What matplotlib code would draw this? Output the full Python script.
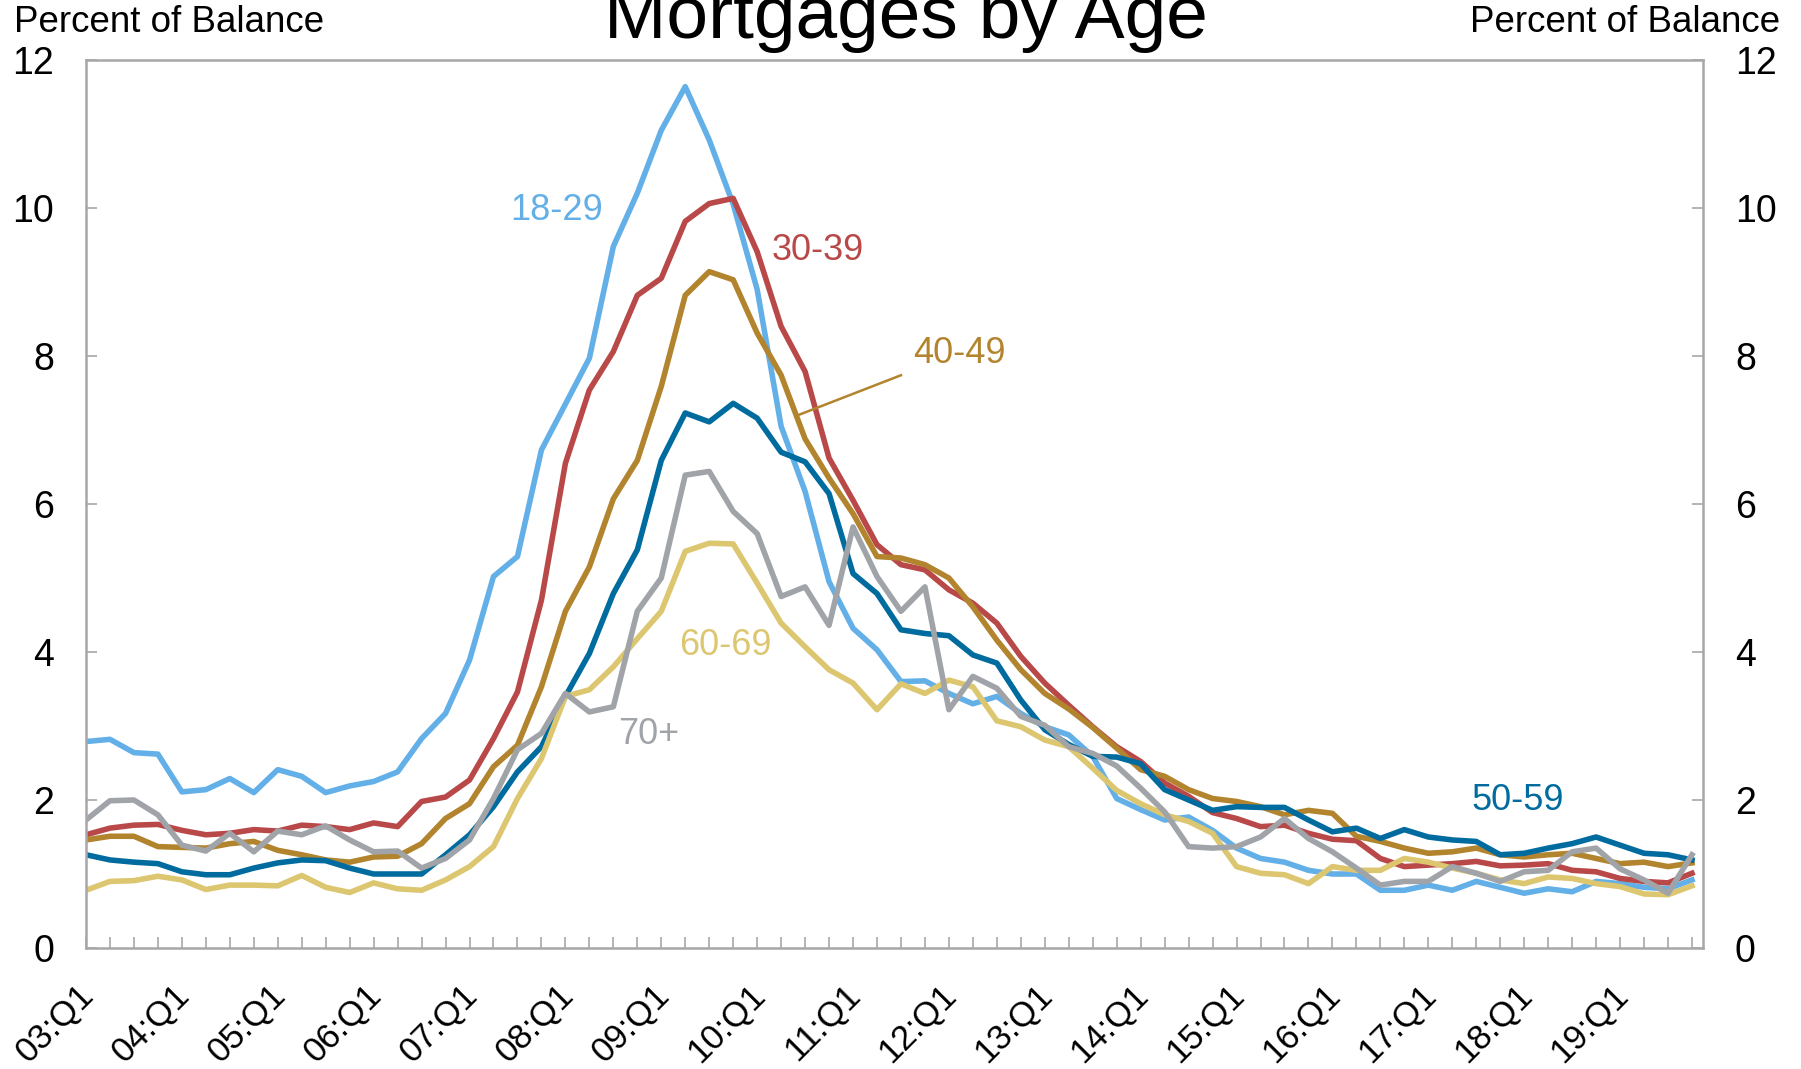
import matplotlib.pyplot as plt
from matplotlib.transforms import ScaledTranslation

plt.rcParams['font.family'] = ['Liberation Sans', 'DejaVu Sans']

# quarters 03:Q1 .. 19:Q4
quarters = ['%02d:Q%d' % (y, q) for y in range(3, 20) for q in range(1, 5)]

age_18_29 = [2.79, 2.82, 2.64, 2.62, 2.11, 2.14, 2.29, 2.10, 2.41, 2.32, 2.10, 2.19, 2.25, 2.38, 2.83, 3.17,
             3.89, 5.02, 5.29, 6.73, 7.35, 7.97, 9.48, 10.20, 11.05, 11.64, 10.92, 10.05, 8.90, 7.05, 6.17, 4.95,
             4.32, 4.03, 3.60, 3.61, 3.44, 3.30, 3.40, 3.17, 2.99, 2.88, 2.59, 2.02, 1.87, 1.73, 1.77, 1.59,
             1.35, 1.21, 1.16, 1.05, 1.00, 1.00, 0.78, 0.78, 0.85, 0.78, 0.90, 0.82, 0.74, 0.80, 0.76, 0.90,
             0.87, 0.82, 0.80, 0.92]
age_30_39 = [1.53, 1.62, 1.66, 1.67, 1.59, 1.53, 1.55, 1.60, 1.58, 1.66, 1.64, 1.60, 1.69, 1.64, 1.98, 2.04,
             2.27, 2.83, 3.46, 4.70, 6.55, 7.54, 8.06, 8.82, 9.05, 9.82, 10.06, 10.13, 9.41, 8.40, 7.79, 6.62,
             6.05, 5.45, 5.18, 5.11, 4.84, 4.66, 4.39, 3.94, 3.58, 3.28, 2.99, 2.72, 2.52, 2.23, 2.05, 1.83,
             1.75, 1.64, 1.66, 1.55, 1.47, 1.45, 1.21, 1.10, 1.12, 1.14, 1.17, 1.11, 1.12, 1.14, 1.05, 1.03,
             0.94, 0.90, 0.88, 1.01]
age_40_49 = [1.46, 1.51, 1.51, 1.37, 1.36, 1.35, 1.41, 1.44, 1.32, 1.26, 1.19, 1.16, 1.23, 1.24, 1.41, 1.75,
             1.95, 2.45, 2.74, 3.53, 4.55, 5.15, 6.07, 6.59, 7.59, 8.82, 9.14, 9.03, 8.31, 7.74, 6.88, 6.35,
             5.87, 5.29, 5.27, 5.18, 5.00, 4.61, 4.16, 3.76, 3.44, 3.23, 2.98, 2.70, 2.41, 2.32, 2.14, 2.02,
             1.98, 1.91, 1.80, 1.86, 1.82, 1.51, 1.44, 1.35, 1.28, 1.30, 1.35, 1.26, 1.23, 1.26, 1.28, 1.21,
             1.14, 1.16, 1.10, 1.15]
age_50_59 = [1.26, 1.19, 1.16, 1.14, 1.03, 0.99, 0.99, 1.08, 1.15, 1.19, 1.18, 1.08, 1.00, 1.00, 1.00, 1.26,
             1.53, 1.91, 2.38, 2.72, 3.40, 3.98, 4.79, 5.38, 6.59, 7.23, 7.11, 7.36, 7.16, 6.70, 6.57, 6.14,
             5.06, 4.79, 4.30, 4.25, 4.22, 3.96, 3.85, 3.35, 2.95, 2.75, 2.59, 2.58, 2.49, 2.14, 2.00, 1.86,
             1.91, 1.90, 1.90, 1.73, 1.57, 1.62, 1.48, 1.60, 1.50, 1.46, 1.44, 1.26, 1.28, 1.35, 1.41, 1.50,
             1.39, 1.28, 1.26, 1.19]
age_60_69 = [0.78, 0.90, 0.91, 0.97, 0.92, 0.79, 0.85, 0.85, 0.84, 0.98, 0.82, 0.75, 0.88, 0.80, 0.78, 0.92,
             1.10, 1.37, 2.02, 2.56, 3.40, 3.49, 3.80, 4.18, 4.55, 5.36, 5.47, 5.46, 4.93, 4.39, 4.07, 3.76,
             3.58, 3.22, 3.57, 3.44, 3.62, 3.53, 3.07, 2.99, 2.81, 2.72, 2.43, 2.13, 1.95, 1.80, 1.71, 1.55,
             1.10, 1.01, 0.99, 0.87, 1.10, 1.05, 1.05, 1.21, 1.16, 1.08, 1.01, 0.92, 0.87, 0.96, 0.94, 0.87,
             0.83, 0.73, 0.72, 0.84]
age_70_plus = [1.73, 1.99, 2.00, 1.80, 1.39, 1.31, 1.55, 1.30, 1.58, 1.53, 1.65, 1.46, 1.30, 1.31, 1.08, 1.21,
               1.46, 2.02, 2.68, 2.90, 3.44, 3.19, 3.26, 4.55, 5.00, 6.39, 6.44, 5.90, 5.60, 4.75, 4.88, 4.36,
               5.69, 5.02, 4.55, 4.88, 3.22, 3.67, 3.51, 3.13, 3.01, 2.72, 2.63, 2.46, 2.16, 1.84, 1.37, 1.35,
               1.37, 1.50, 1.75, 1.48, 1.30, 1.08, 0.85, 0.90, 0.90, 1.10, 1.01, 0.90, 1.03, 1.05, 1.30, 1.35,
               1.07, 0.92, 0.74, 1.26]

c_18 = '#63AFE8'
c_30 = '#B94848'
c_40 = '#B2842D'
c_50 = '#006B9E'
c_60 = '#DCC670'
c_70 = '#A0A3A8'
axis_gray = '#A8A6A8'

fig = plt.figure(figsize=(18.01, 10.69), dpi=100)
ax = fig.add_axes([86/1801, 121/1069, (1703-86)/1801, (948-60)/1069])

x = range(len(quarters))
lw = 4.0
ax.plot(x, age_18_29, color=c_18, linewidth=lw, solid_joinstyle='round')
ax.plot(x, age_30_39, color=c_30, linewidth=lw, solid_joinstyle='round')
ax.plot(x, age_40_49, color=c_40, linewidth=lw, solid_joinstyle='round')
ax.plot(x, age_50_59, color=c_50, linewidth=lw, solid_joinstyle='round')
ax.plot(x, age_60_69, color=c_60, linewidth=lw, solid_joinstyle='round')
ax.plot(x, age_70_plus, color=c_70, linewidth=lw, solid_joinstyle='round')

ax.set_xlim(0, 67.46)
ax.set_ylim(0, 12)
ax.set_yticks(range(0, 13, 2))

for s in ax.spines.values():
    s.set_color(axis_gray)
    s.set_linewidth(1.8)

ax.tick_params(axis='x', direction='in', length=8, width=1.2, color=axis_gray, pad=22)
ax.tick_params(axis='y', direction='in', length=8, width=1.2, color=axis_gray, pad=23,
               labelsize=27, right=True, labelright=True)

ax.set_xticks(list(x))
ax.set_xticklabels([q if q.endswith('Q1') else '' for q in quarters],
                   rotation=45, ha='right', va='top', rotation_mode='anchor', fontsize=25)
# nudge the slanted labels a bit to the left (after tick_params, which resets transforms)
shift = ScaledTranslation(-0.09, 0, fig.dpi_scale_trans)
for lab in ax.get_xticklabels():
    lab.set_transform(lab.get_transform() + shift)

# series labels
ax.text(17.7, 9.97, '18-29', color=c_18, fontsize=26, va='center')
ax.text(28.6, 9.43, '30-39', color=c_30, fontsize=26, va='center')
ax.text(34.5, 8.03, '40-49', color=c_40, fontsize=26, va='center')
ax.plot([29.7, 34.0], [7.20, 7.74], color=c_40, linewidth=1.8)
ax.text(57.8, 2.0, '50-59', color=c_50, fontsize=26, va='center')
ax.text(24.75, 4.09, '60-69', color=c_60, fontsize=26, va='center')
ax.text(22.2, 2.88, '70+', color=c_70, fontsize=26, va='center')

fig.text(0.503, 1 - 38/1069, 'Mortgages by Age', fontsize=54, ha='center', va='baseline')
fig.text(14/1801, 1 - 23/1069, 'Percent of Balance', fontsize=26.5, ha='left', va='center')
fig.text(1780/1801, 1 - 23/1069, 'Percent of Balance', fontsize=26.5, ha='right', va='center')

fig.savefig('out.png', dpi=100)
